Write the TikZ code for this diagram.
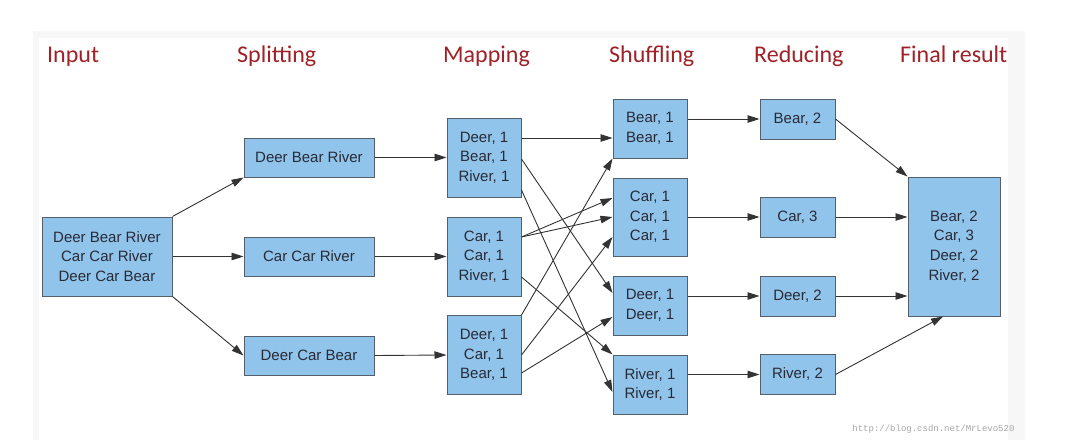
\documentclass[tikz,border=0pt]{standalone}
\usepackage{fontspec}
\setmainfont{Liberation Sans}
\newfontfamily\headfont{Carlito}
\newfontfamily\markfont{Liberation Mono}
\usetikzlibrary{arrows.meta}
\definecolor{boxblue}{RGB}{145,196,234}
\definecolor{boxline}{RGB}{85,95,105}
\definecolor{headred}{RGB}{158,34,40}
\definecolor{textgray}{RGB}{40,42,55}

\begin{document}
\begin{tikzpicture}[x=1pt,y=-1pt,>={Triangle[length=12pt,width=7.5pt]}]

%
% Styles
%
\tikzstyle{box} = [rectangle,draw=boxline,fill=boxblue,line width=1pt,inner sep=0pt,
  align=center,text=textgray,font=\fontsize{15}{19.7}\selectfont]
\tikzstyle{head} = [anchor=base west,inner sep=0pt,text=headred,font=\headfont\fontsize{24}{28}\selectfont]
\tikzstyle{link} = [->,draw=black!80,line width=0.9pt]

\useasboundingbox (0,0) rectangle (1080,440);
\fill[black!3] (33,31) rectangle (1025,440);
\fill[white] (39,38) rectangle (1008,440);

\node[head] (hin) at (47,62) {Input};
\node[head] (hsp) at (237,62) {Splitting};
\node[head] (hmap) at (443,62) {Mapping};
\node[head] (hsh) at (609,62) {Shuffling};
\node[head] (hred) at (754,62) {Reducing};
\node[head] (hfin) at (900,62) {Final result};

\node[box,minimum width=130pt,minimum height=79pt] (in) at (107,256.5) {Deer Bear River\\Car Car River\\Deer Car Bear};

\node[box,minimum width=130pt,minimum height=39pt] (sp1) at (309,157.5) {Deer Bear River};
\node[box,minimum width=130pt,minimum height=39pt] (sp2) at (309,256.5) {Car Car River};
\node[box,minimum width=130pt,minimum height=39pt] (sp3) at (309,355.5) {Deer Car Bear};

\node[box,minimum width=74pt,minimum height=79pt] (m1) at (484,157.5) {Deer, 1\\Bear, 1\\River, 1};
\node[box,minimum width=74pt,minimum height=79pt] (m2) at (484,256.5) {Car, 1\\Car, 1\\River, 1};
\node[box,minimum width=74pt,minimum height=79pt] (m3) at (484,355) {Deer, 1\\Car, 1\\Bear, 1};

\node[box,minimum width=74pt,minimum height=59pt] (sh1) at (650,128.5) {Bear, 1\\Bear, 1};
\node[box,minimum width=74pt,minimum height=78pt] (sh2) at (650,217) {Car, 1\\Car, 1\\Car, 1};
\node[box,minimum width=74pt,minimum height=59pt] (sh3) at (650,305.5) {Deer, 1\\Deer, 1};
\node[box,minimum width=74pt,minimum height=59pt] (sh4) at (650,384.5) {River, 1\\River, 1};

\node[box,minimum width=75pt,minimum height=40pt] (r1) at (797.5,119) {Bear, 2};
\node[box,minimum width=75pt,minimum height=40pt] (r2) at (797.5,217) {Car, 3};
\node[box,minimum width=75pt,minimum height=40pt] (r3) at (797.5,296) {Deer, 2};
\node[box,minimum width=75pt,minimum height=40pt] (r4) at (797.5,374.5) {River, 2};

\node[box,minimum width=92pt,minimum height=139pt] (fin) at (954,246.5) {Bear, 2\\Car, 3\\Deer, 2\\River, 2};

\node[anchor=base east,text=black!35,font=\markfont\fontsize{9}{10}\selectfont] (mark) at (1018,431) {http://blog.csdn.net/MrLevo520};

% input -> splitting
\draw[link] (in.north east) -- (sp1.south west);
\draw[link] (in.east) -- (sp2.west);
\draw[link] (in.south east) -- (sp3.west);

% splitting -> mapping
\draw[link] (sp1.east) -- (m1.west);
\draw[link] (sp2.east) -- (m2.west);
\draw[link] (sp3.east) -- (m3.west);

% mapping -> shuffling
\draw[link] ([yshift=19.5pt]m1.east) -- ([yshift=-9.5pt]sh1.west);
\draw[link] ([yshift=-1.5pt]m1.east) -- ([yshift=12.5pt]sh3.west);
\draw[link] ([yshift=-32.5pt]m1.east) -- ([yshift=-7.5pt]sh4.west);
\draw[link] ([yshift=19.5pt]m2.east) -- ([yshift=19pt]sh2.west);
\draw[link] ([yshift=19.5pt]m2.east) -- (sh2.west);
\draw[link] ([yshift=-20.5pt]m2.east) -- (sh4.north west);
\draw[link] (m3.north east) -- (sh1.south west);
\draw[link] (m3.east) -- ([yshift=-20pt]sh2.west);
\draw[link] ([yshift=-18pt]m3.east) -- ([yshift=-11.5pt]sh3.west);

% shuffling -> reducing
\draw[link] ([yshift=9.5pt]sh1.east) -- (r1.west);
\draw[link] (sh2.east) -- (r2.west);
\draw[link] ([yshift=9.5pt]sh3.east) -- (r3.west);
\draw[link] ([yshift=10pt]sh4.east) -- (r4.west);

% reducing -> final result
\draw[link] (r1.east) -- (fin.north west);
\draw[link] (r2.east) -- ([yshift=29.5pt]fin.west);
\draw[link] (r3.east) -- ([yshift=-49.5pt]fin.west);
\draw[link] (r4.east) -- ([xshift=-11pt]fin.south);

\end{tikzpicture}
\end{document}
